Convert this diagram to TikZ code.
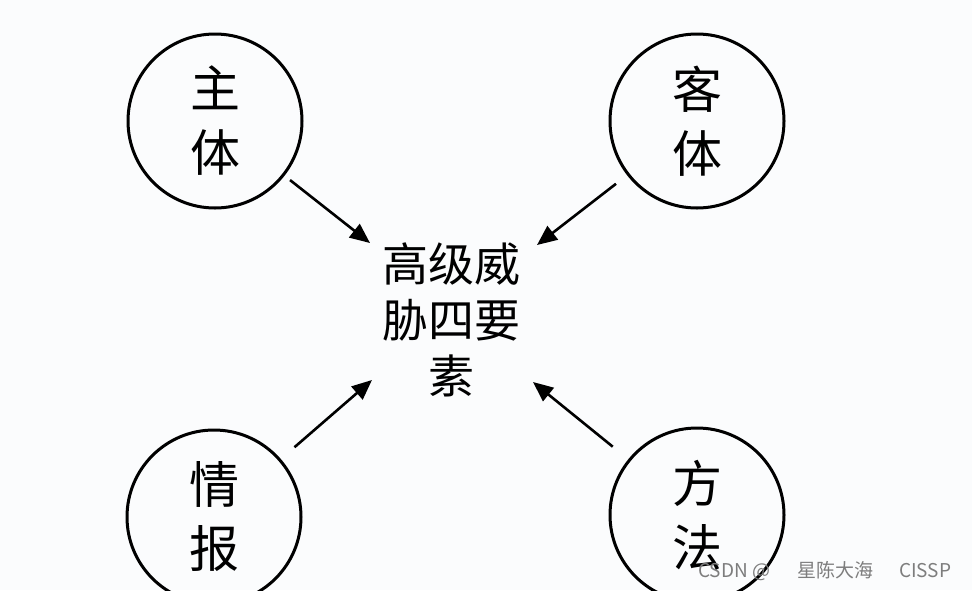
\documentclass[tikz,border=0pt]{standalone}
\usepackage{fontspec}
\setmainfont{Noto Sans CJK SC}
\usetikzlibrary{arrows.meta}
\definecolor{bgcol}{RGB}{251,252,253}
\definecolor{wmcol}{RGB}{125,125,125}
\tikzset{
  elem/.style={circle, draw=black, line width=3pt, minimum size=174pt, inner sep=0pt,
    align=center, font=\fontsize{50}{64}\selectfont},
  arr/.style={line width=2.6pt, -{Triangle[length=20pt,width=17pt]}},
  core/.style={align=center, font=\fontsize{46}{56}\selectfont, inner sep=0pt},
  wm/.style={text=wmcol, font=\fontsize{19}{22}\selectfont, inner sep=0pt, anchor=west}
}
\begin{document}
\begin{tikzpicture}[x=1pt, y=-1pt]
\useasboundingbox (0,0) rectangle (972,590);
\fill[bgcol] (0,0) rectangle (972,590);
\clip (0,0) rectangle (972,590);
\node[elem] (zt) at (215,121) {主\\体};
\node[elem] (kt) at (697,121) {客\\体};
\node[elem] (qb) at (214,517) {情\\报};
\node[elem] (ff) at (697,515) {方\\法};
\node[core] (c) at (451,320) {高级威\\胁四要\\素};
\coordinate (tTL) at (370,243);
\coordinate (tTR) at (537,245);
\coordinate (tBL) at (372,380);
\coordinate (tBR) at (533,382);
\draw[arr, shorten <=7pt] (zt) -- (tTL);
\draw[arr, shorten <=14pt] (kt) -- (tTR);
\draw[arr, shorten <=18pt] (qb) -- (tBL);
\draw[arr, shorten <=20pt] (ff) -- (tBR);
\node[wm] (wmk) at (698,571) {CSDN @\hspace{27pt}星陈大海\hspace{26pt}CISSP};
\end{tikzpicture}
\end{document}
